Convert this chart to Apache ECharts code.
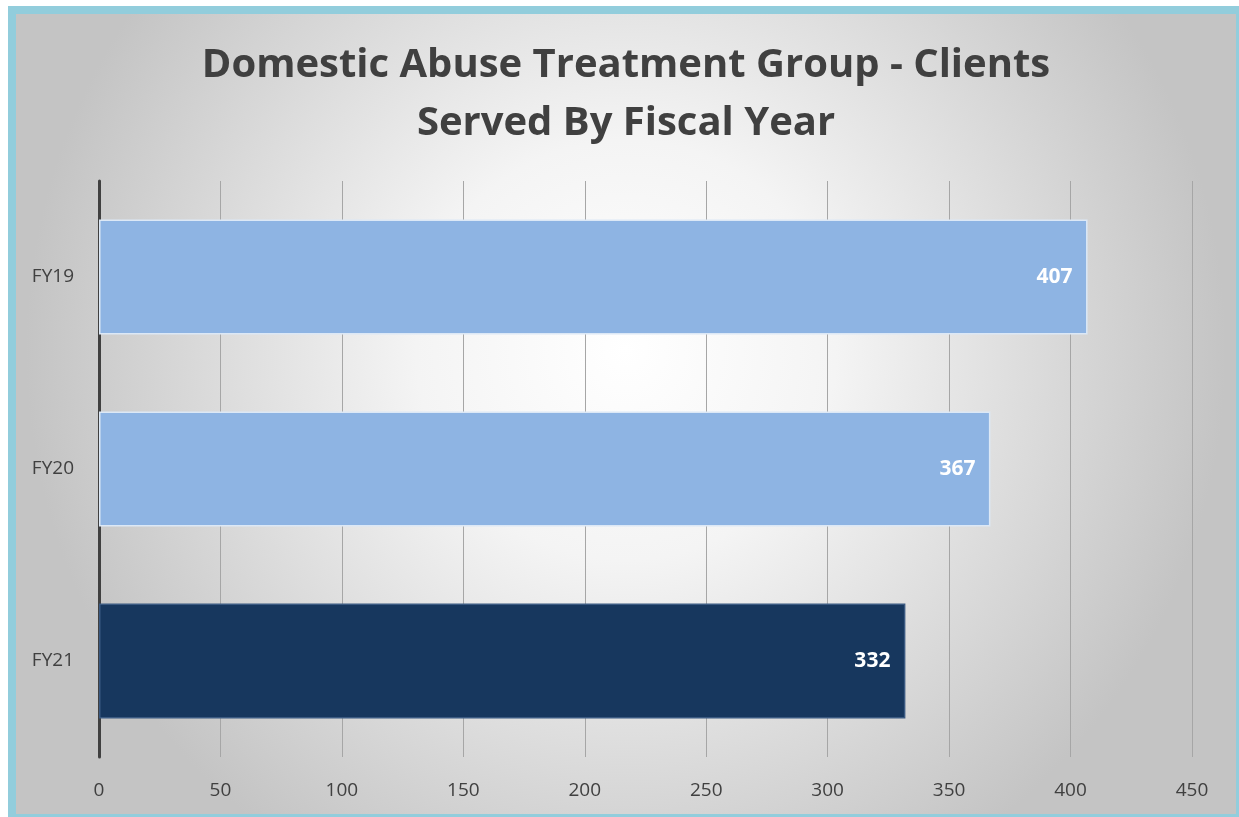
<!DOCTYPE html>
<html>
<head>
<meta charset="utf-8">
<script src="https://cdn.jsdelivr.net/npm/echarts@6/dist/echarts.min.js"></script>
<style>
  html, body { margin: 0; padding: 0; background: #ffffff; overflow: hidden; width: 1239px; height: 817px; }
  #frame { position: absolute; left: 8px; top: 6px; border: 8px solid #92CDDC; width: 1220px; height: 800px; }
  #chart { width: 1220px; height: 800px; }
</style>
</head>
<body>
<div id="frame"><div id="chart"></div></div>
<script>
// Fiscal years and clients served
const categories = ['FY19', 'FY20', 'FY21'];
const clientsServed = [407, 367, 332];
const barColors = ['#8EB4E3', '#8EB4E3', '#17375E'];
const barBorders = ['#DCE8F6', '#DCE8F6', '#3B5A82'];
const titleLines = ['Domestic Abuse Treatment Group - Clients', 'Served By Fiscal Year'];
const xTicks = { min: 0, max: 450, interval: 50 };

const titleStyle = {
  fontFamily: 'Open Sans',
  fontSize: 40,
  fontWeight: 'bold',
  color: '#404040'
};

const chart = echarts.init(document.getElementById('chart'), null, { renderer: 'canvas' });

chart.setOption({
  backgroundColor: {
    type: 'radial', x: 0.5, y: 0.42, r: 0.75,
    colorStops: [
      { offset: 0, color: '#ffffff' },
      { offset: 0.35, color: '#f4f4f4' },
      { offset: 1, color: '#c4c4c4' }
    ]
  },
  textStyle: { fontFamily: 'Open Sans' },
  title: [
    { text: titleLines[0], left: 'center', top: 27, textStyle: titleStyle },
    { text: titleLines[1], left: 'center', top: 85, textStyle: titleStyle }
  ],
  grid: { left: 83, right: 44, top: 167, bottom: 57, containLabel: false },
  xAxis: {
    type: 'value',
    min: xTicks.min, max: xTicks.max, interval: xTicks.interval,
    axisLine: { show: false },
    axisTick: { show: false },
    axisLabel: { color: '#404040', fontSize: 19, margin: 24 },
    splitLine: { show: true, lineStyle: { color: '#A6A6A6', width: 1 } }
  },
  yAxis: {
    type: 'category',
    data: categories,
    inverse: true,
    axisLine: { show: true, lineStyle: { color: '#404040', width: 3 } },
    axisTick: { show: false },
    axisLabel: { color: '#404040', fontSize: 19, margin: 25 }
  },
  series: [{
    type: 'bar',
    barWidth: '60%',
    data: clientsServed.map((v, i) => ({
      value: v,
      itemStyle: { color: barColors[i], borderColor: barBorders[i], borderWidth: 1.5 }
    })),
    label: {
      show: true,
      position: 'insideRight',
      distance: 15,
      color: '#ffffff',
      fontSize: 21,
      fontWeight: 'bold',
      fontFamily: 'Open Sans'
    }
  }]
});
</script>
</body>
</html>
